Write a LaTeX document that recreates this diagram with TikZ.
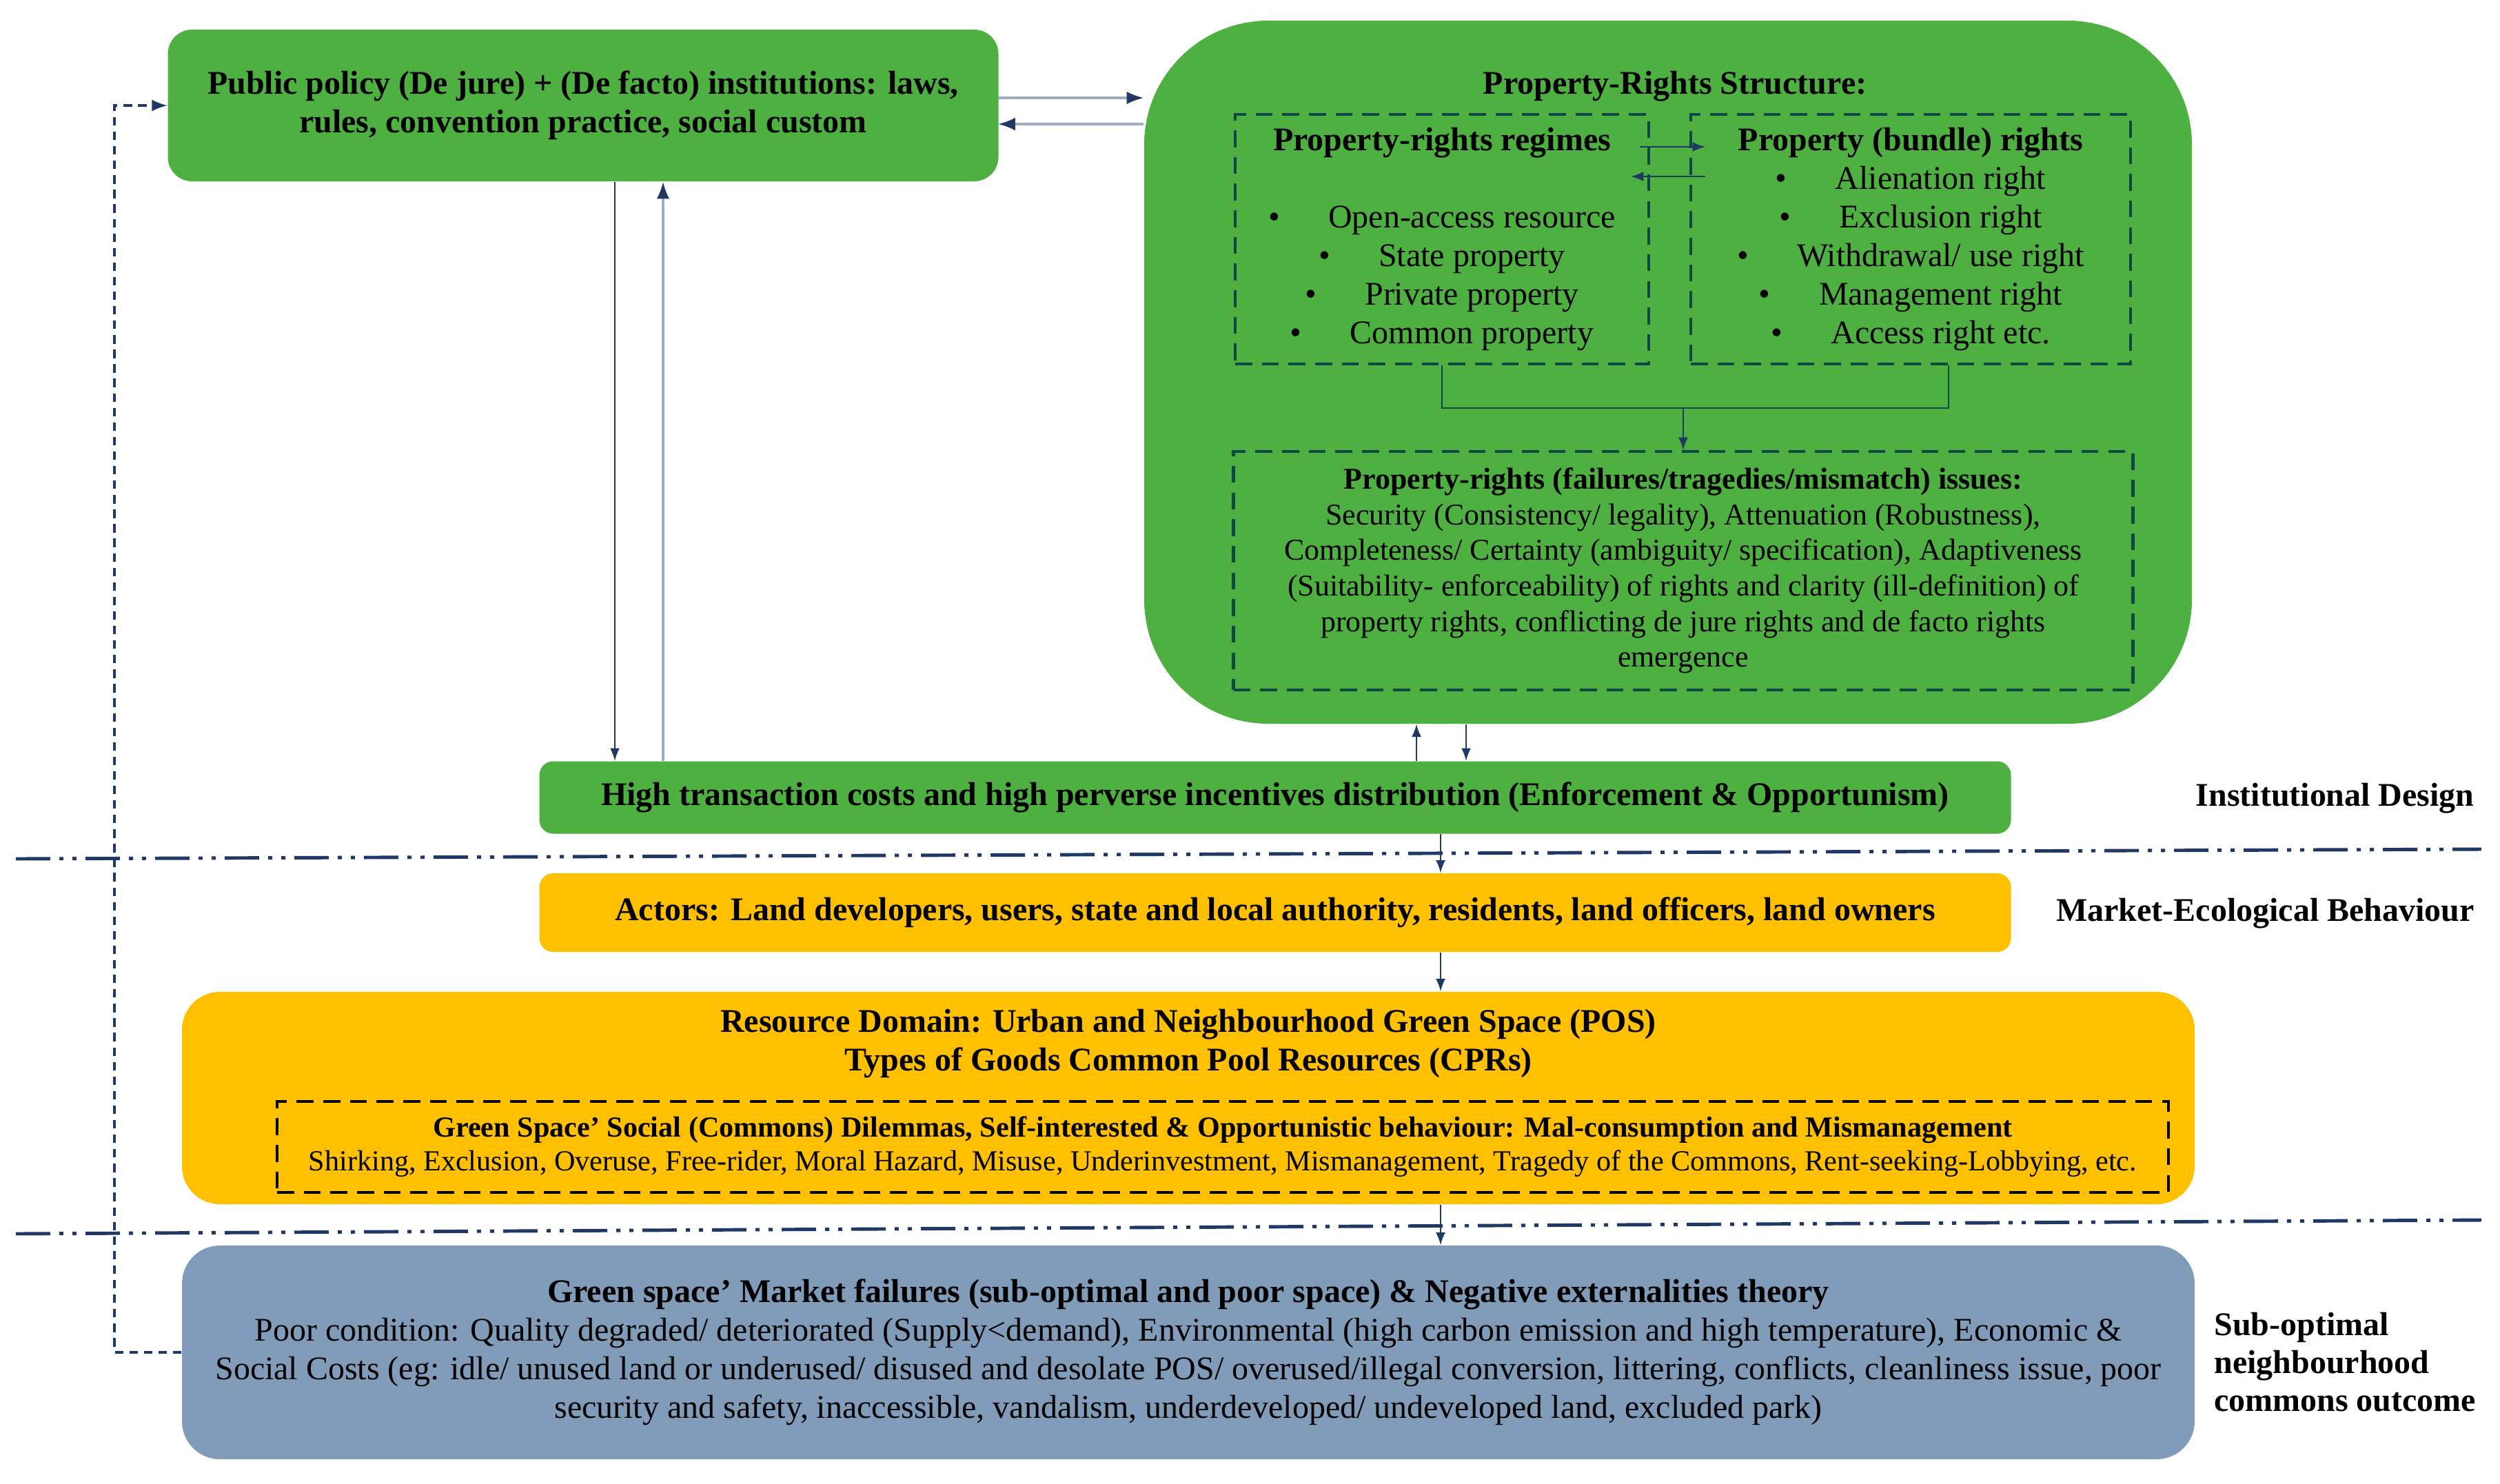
\documentclass[tikz,border=0pt]{standalone}
\usepackage{fontspec}
\setmainfont{Liberation Serif}
\usetikzlibrary{shapes,arrows,arrows.meta}
\definecolor{policygreen}{RGB}{78,176,64}
\definecolor{actorgold}{RGB}{255,192,0}
\definecolor{outcomeblue}{RGB}{128,156,185}
\definecolor{arrowblue}{RGB}{31,56,100}
\definecolor{arrowgrey}{RGB}{160,172,192}
\definecolor{dashgreen}{RGB}{14,72,66}
\tikzset{greenbox/.style={rectangle, fill=policygreen, align=center, font=\fontsize{13.65}{15.9}\selectfont\bfseries}}
\tikzset{goldbox/.style={rectangle, fill=actorgold, align=center, font=\fontsize{13.65}{15.9}\selectfont\bfseries}}
\tikzset{bluebox/.style={rectangle, fill=outcomeblue, align=center, rounded corners=0.55cm, font=\fontsize{13.65}{15.9}\selectfont}}
\tikzset{dashbox/.style={rectangle, draw=dashgreen, line width=1.2pt, dash pattern=on 7pt off 4pt, align=center, font=\fontsize{13.65}{15.9}\selectfont}}
\tikzset{layer/.style={font=\fontsize{13.65}{15.6}\selectfont\bfseries, align=left}}
\tikzset{flow/.style={draw=arrowblue, line width=0.8pt, -latex}}
\tikzset{flowgrey/.style={draw=arrowgrey, line width=0.9pt, -{Latex[color=arrowblue]}}}
\tikzset{feedback/.style={draw=arrowblue, line width=1.2pt, dash pattern=on 3.5pt off 2.5pt, -latex}}
\tikzset{sepline/.style={draw=arrowblue, line width=1.4pt, dash pattern=on 0.5cm off 0.13cm on 0.06cm off 0.13cm on 0.06cm off 0.13cm}}

\begin{document}
\begin{tikzpicture}
        \useasboundingbox (0,0) rectangle (36.27,-21.52);

        % institutional design
        \node[greenbox, rounded corners=0.35cm, minimum width=12.05cm, minimum height=2.2cm] (pp) at (8.46,-1.53)
            {Public policy (De jure) + (De facto) institutions: laws,\\ rules, convention practice, social custom};
        \node[greenbox, rounded corners=1.8cm, minimum width=15.2cm, minimum height=10.2cm] (prs) at (24.20,-5.40) {};
        \node[greenbox, fill=none] (prst) at (24.30,-1.25) {Property-Rights Structure:};
        \node[dashbox, minimum width=6.0cm, minimum height=3.62cm, text depth=0.1cm] (reg) at (20.92,-3.47)
            {\textbf{Property-rights regimes}\\[15.9pt]
             \textbullet\hspace{20pt}Open-access resource\\
             \textbullet\hspace{20pt}State property\\
             \textbullet\hspace{20pt}Private property\\
             \textbullet\hspace{20pt}Common property};
        \node[dashbox, minimum width=6.38cm, minimum height=3.62cm, text depth=0.1cm] (bun) at (27.72,-3.47)
            {\textbf{Property (bundle) rights}\\
             \textbullet\hspace{20pt}Alienation right\\
             \textbullet\hspace{20pt}Exclusion right\\
             \textbullet\hspace{20pt}Withdrawal/ use right\\
             \textbullet\hspace{20pt}Management right\\
             \textbullet\hspace{20pt}Access right etc.};
        \node[dashbox, minimum width=13.05cm, minimum height=3.46cm, font=\fontsize{12.5}{14.7}\selectfont] (iss) at (24.42,-8.28)
            {\textbf{Property-rights (failures/tragedies/mismatch) issues:}\\
             Security (Consistency/ legality), Attenuation (Robustness),\\
             Completeness/ Certainty (ambiguity/ specification), Adaptiveness\\
             (Suitability- enforceability) of rights and clarity (ill-definition) of\\
             property rights, conflicting de jure rights and de facto rights\\
             emergence};
        \node[greenbox, rounded corners=0.2cm, minimum width=21.35cm, minimum height=1.05cm] (htc) at (18.50,-11.57)
            {High transaction costs and high perverse incentives distribution (Enforcement \& Opportunism)};

        % market-ecological behaviour
        \node[goldbox, rounded corners=0.2cm, minimum width=21.35cm, minimum height=1.14cm] (act) at (18.50,-13.24)
            {Actors: Land developers, users, state and local authority, residents, land officers, land owners};
        \node[goldbox, rounded corners=0.55cm, minimum width=29.20cm, minimum height=3.08cm] (res) at (17.24,-15.93) {};
        \node[goldbox, fill=none] (rest) at (17.24,-15.14)
            {Resource Domain: Urban and Neighbourhood Green Space (POS)\\ Types of Goods Common Pool Resources (CPRs)};
        \node[dashbox, draw=black, minimum width=27.44cm, minimum height=1.32cm, font=\fontsize{12}{14}\selectfont] (dil) at (17.74,-16.64)
            {\textbf{Green Space’ Social (Commons) Dilemmas, Self-interested \& Opportunistic behaviour: Mal-consumption and Mismanagement}\\
             Shirking, Exclusion, Overuse, Free-rider, Moral Hazard, Misuse, Underinvestment, Mismanagement, Tragedy of the Commons, Rent-seeking-Lobbying, etc.};

        % outcome
        \node[bluebox, minimum width=29.20cm, minimum height=3.10cm] (mf) at (17.24,-19.62)
            {\textbf{Green space’ Market failures (sub-optimal and poor space) \& Negative externalities theory}\\
             Poor condition: Quality degraded/ deteriorated (Supply<demand), Environmental (high carbon emission and high temperature), Economic \&\\
             Social Costs (eg: idle/ unused land or underused/ disused and desolate POS/ overused/illegal conversion, littering, conflicts, cleanliness issue, poor\\
             security and safety, inaccessible, vandalism, underdeveloped/ undeveloped land, excluded park)};

        % layer labels
        \node[layer, anchor=east] (lid) at (36.02,-11.58) {Institutional Design};
        \node[layer, anchor=east] (lmb) at (36.02,-13.25) {Market-Ecological Behaviour};
        \node[layer, anchor=west] (lso) at (32.0,-19.76) {Sub-optimal\\ neighbourhood\\ commons outcome};

        \draw[sepline] (0.23,-12.46) -- (36.0,-12.32);
        \draw[sepline] (0.23,-17.90) -- (36.0,-17.70);

        % connectors
        \coordinate (pa) at (14.48,-1.42);
        \coordinate (pb) at (14.48,-1.80);
        \path[flowgrey] (pa) -- (pa -| prs.west);
        \path[flowgrey] (pb -| prs.west) -- (pb);
        \coordinate (xd) at (8.92,0);
        \coordinate (xu) at (9.62,0);
        \path[flow] (pp.south -| xd) -- (htc.north -| xd);
        \path[flowgrey] (htc.north -| xu) -- (pp.south -| xu);
        \coordinate (yu) at (20.55,0);
        \coordinate (yd) at (21.27,0);
        \path[flow] (htc.north -| yu) -- (prs.south -| yu);
        \path[flow] (prs.south -| yd) -- (htc.north -| yd);

        \coordinate (ra) at (23.79,-2.13);
        \coordinate (rb) at (24.74,-2.13);
        \coordinate (rc) at (24.74,-2.56);
        \coordinate (rd) at (23.66,-2.56);
        \path[flow] (ra) -- (rb);
        \path[flow] (rc) -- (rd);
        \coordinate (bk) at (28.27,-5.92);
        \draw[dashgreen, line width=0.8pt] (reg.south) |- (bk) -- (bk |- bun.south);
        \path[flow] (iss.north |- bk) -- (iss.north);

        \coordinate (xc) at (20.90,0);
        \path[flow] (htc.south -| xc) -- (act.north -| xc);
        \path[flow] (act.south -| xc) -- (res.north -| xc);
        \path[flow] (res.south -| xc) -- (mf.north -| xc);

        \path[feedback] (mf.west) -- ++(-0.97,0) |- (pp.west);
\end{tikzpicture}
\end{document}
